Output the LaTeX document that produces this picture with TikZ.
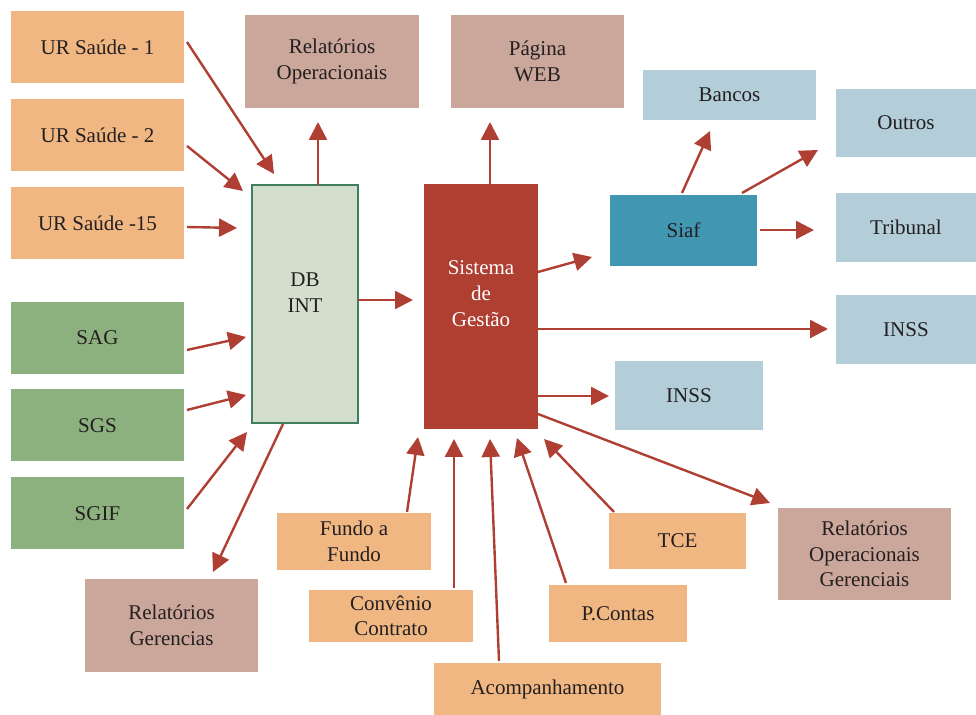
\documentclass[tikz,border=0pt]{standalone}
\usepackage{fontspec}
\setmainfont{Liberation Serif}
\usetikzlibrary{calc,arrows.meta}
\definecolor{corange}{HTML}{F1B783}
\definecolor{cpink}{HTML}{CBA69A}
\definecolor{cgreen}{HTML}{8DB17E}
\definecolor{clblue}{HTML}{B3CDD9}
\definecolor{cteal}{HTML}{4196B1}
\definecolor{cred}{HTML}{AE3F31}
\definecolor{cdbfill}{HTML}{D3DFCC}
\definecolor{cdbborder}{HTML}{3F7F5F}
\definecolor{carrow}{HTML}{AF3F32}
\definecolor{ctext}{HTML}{231F20}
\begin{document}
\begin{tikzpicture}[x=0.5pt,y=-0.5pt,
  box/.style={rectangle,inner sep=0pt,outer sep=0pt,draw=none,align=center,text=ctext,
    font=\fontsize{10.5pt}{12.75pt}\selectfont},
  orangebox/.style={box,fill=corange},
  pinkbox/.style={box,fill=cpink},
  greenbox/.style={box,fill=cgreen},
  bluebox/.style={box,fill=clblue},
  tealbox/.style={box,fill=cteal},
  txt/.style={inner sep=0pt,align=center,font=\fontsize{10.5pt}{13pt}\selectfont},
  arr/.style={draw=carrow,line width=1.2pt,-{Triangle[length=9pt,width=9pt]}}]
\useasboundingbox (0,0) rectangle (976,715);
% left sources
\node[orangebox,minimum width=86.5pt,minimum height=36pt] (ur1) at (97.5,47) {UR Saúde - 1};
\node[orangebox,minimum width=86.5pt,minimum height=36pt] (ur2) at (97.5,135.5) {UR Saúde - 2};
\node[orangebox,minimum width=86.5pt,minimum height=36pt] (ur15) at (97.5,223) {UR Saúde -15};
\node[greenbox,minimum width=86.5pt,minimum height=36pt] (sag) at (97.5,338) {SAG};
\node[greenbox,minimum width=86.5pt,minimum height=36pt] (sgs) at (97.5,425.5) {SGS};
\node[greenbox,minimum width=86.5pt,minimum height=36pt] (sgif) at (97.5,513.5) {SGIF};
% top reports
\node[pinkbox,minimum width=87pt,minimum height=46.5pt] (relop) at (332,61.5) {Relatórios\\Operacionais};
\node[pinkbox,minimum width=86.5pt,minimum height=46.5pt] (web) at (537.5,61.5) {Página\\WEB};
% right side
\node[bluebox,minimum width=86.5pt,minimum height=25pt] (bancos) at (729.5,95) {Bancos};
\node[bluebox,minimum width=70pt,minimum height=34pt] (outros) at (906,123) {Outros};
\node[bluebox,minimum width=70pt,minimum height=34.5pt] (tribunal) at (906,227.5) {Tribunal};
\node[tealbox,minimum width=73.5pt,minimum height=35.5pt] (siaf) at (683.5,230.5) {Siaf};
\node[bluebox,minimum width=70pt,minimum height=34.5pt] (inss1) at (906,329.5) {INSS};
\node[bluebox,minimum width=74pt,minimum height=34.5pt] (inss2) at (689,395.5) {INSS};
% central boxes
\node[rectangle,inner sep=0pt,outer sep=0pt,fill=cdbfill,draw=cdbborder,line width=1pt,
  minimum width=53pt,minimum height=119pt] (db) at (305,304) {};
\node[txt,text=ctext] (dbtxt) at (305,293) {DB\\INT};
\node[rectangle,inner sep=0pt,outer sep=0pt,fill=cred,draw=none,
  minimum width=57pt,minimum height=122.5pt] (sis) at (481,306.5) {};
\node[txt,text=white] (sistxt) at (481,294) {Sistema\\de\\Gestão};
% bottom
\node[pinkbox,minimum width=86.5pt,minimum height=46.5pt] (relger) at (171.5,625.5) {Relatórios\\Gerencias};
\node[orangebox,minimum width=77pt,minimum height=28.5pt] (fundo) at (354,541.5) {Fundo a\\Fundo};
\node[orangebox,minimum width=82pt,minimum height=26pt] (conv) at (391,616) {Convênio\\Contrato};
\node[orangebox,minimum width=113.5pt,minimum height=26pt] (acomp) at (547.5,689) {Acompanhamento};
\node[orangebox,minimum width=69pt,minimum height=28.5pt] (pcontas) at (618,613.5) {P.Contas};
\node[orangebox,minimum width=68.5pt,minimum height=28pt] (tce) at (677.5,541) {TCE};
\node[pinkbox,minimum width=86.5pt,minimum height=46pt] (relopger) at (864.5,554) {Relatórios\\Operacionais\\Gerenciais};
% arrows
\draw[arr] ($(ur1.east)+(3,-5)$) -- ($(db.north west)+(22,-11)$);
\draw[arr] ($(ur2.east)+(3,10.5)$) -- ($(db.north west)+(-9,6)$);
\draw[arr] ($(ur15.east)+(3,4)$) -- ($(db.north west)+(-15,43)$);
\draw[arr] ($(sag.east)+(3,12)$) -- ($(db.north west)+(-6,152)$);
\draw[arr] ($(sgs.east)+(3,-15.5)$) -- ($(db.south west)+(-6,-28)$);
\draw[arr] ($(sgif.east)+(3,-4.5)$) -- ($(db.south west)+(-5,9)$);
\draw[arr] ($(db.south)+(-22,1)$) -- ($(relger.north)+(41.5,-7)$);
\draw[arr] ($(db.north)+(13,0)$) -- ($(relop.south)+(-14,14)$);
\draw[arr] ($(db.east)+(0,-4)$) -- ($(sis.west)+(-11,-6.5)$);
\draw[arr] ($(sis.north)+(9,0)$) -- ($(web.south)+(-47.5,14)$);
\draw[arr] ($(sis.north east)+(0,88)$) -- ($(siaf.west)+(-18,26.5)$);
\draw[arr] ($(siaf.north)+(-1.5,-2)$) -- ($(bancos.south)+(-19.5,11)$);
\draw[arr] ($(siaf.north east)+(-15,-2)$) -- ($(outros.south west)+(-18,-7)$);
\draw[arr] ($(siaf.east)+(3,-0.5)$) -- ($(tribunal.west)+(-22,2.5)$);
\draw[arr] ($(sis.east)+(0,22.5)$) -- ($(inss1.west)+(-8,-0.5)$);
\draw[arr] ($(sis.east)+(0,89.5)$) -- ($(inss2.west)+(-6,0.5)$);
\draw[arr] ($(sis.south east)+(0,-15)$) -- ($(relopger.north west)+(-8,-5)$);
\draw[arr] ($(tce.north west)+(5,-1)$) -- ($(sis.south east)+(6,10)$);
\draw[arr] ($(pcontas.north west)+(17,-2)$) -- ($(sis.south)+(36,9)$);
\draw[arr] ($(acomp.north)+(-48.5,-2)$) -- ($(sis.south)+(9,10)$);
\draw[arr] ($(conv.north)+(63,-2)$) -- ($(sis.south)+(-27,10)$);
\draw[arr] ($(fundo.north)+(53,-1)$) -- ($(sis.south west)+(-6,8)$);
\end{tikzpicture}
\end{document}
